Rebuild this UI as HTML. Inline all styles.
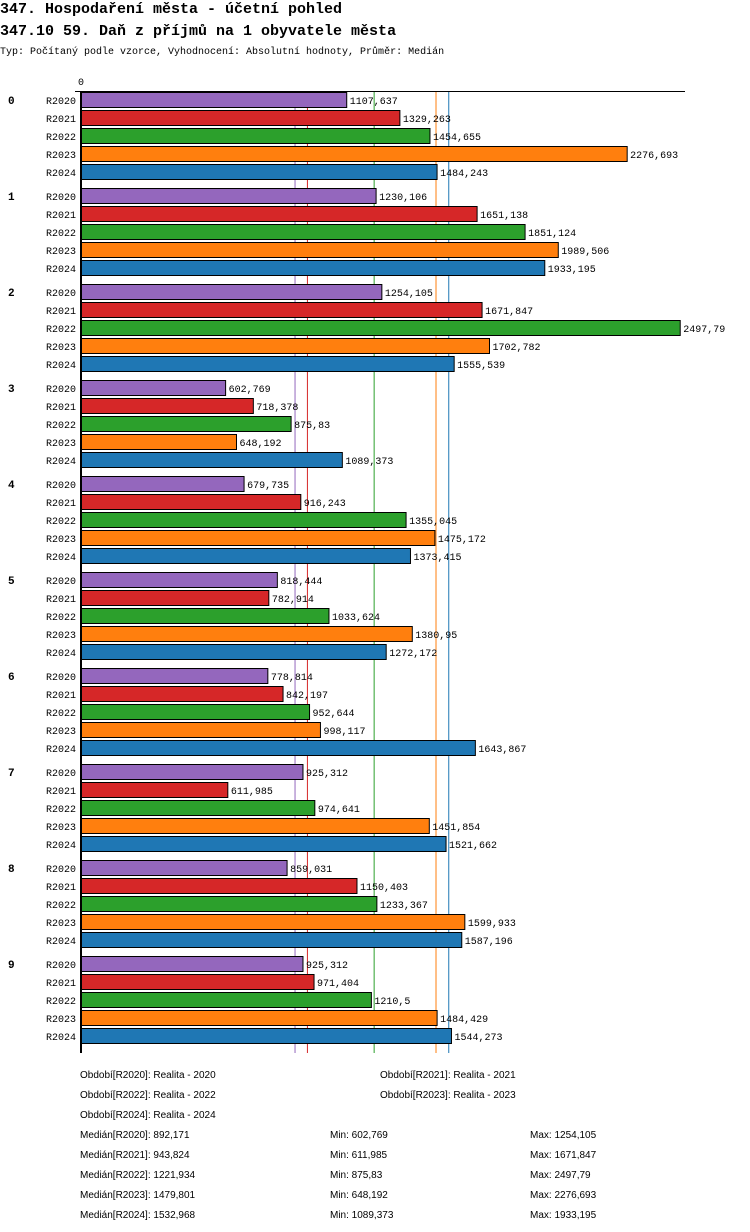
<!DOCTYPE html>
<html><head><meta charset="utf-8"><style>
body{margin:0;background:#fff;}
svg{display:block;}
.t{font-family:"Liberation Mono",monospace;}
.f{font-family:"Liberation Sans",sans-serif;font-size:10px;}
</style></head><body>
<svg id="c" width="750" height="1232">
<text class="t" x="0" y="13" font-size="15" font-weight="bold">347. Hospodaření města - účetní pohled</text>
<text class="t" x="0" y="35" font-size="15" font-weight="bold">347.10 59. Daň z příjmů na 1 obyvatele města</text>
<text class="t" x="0" y="54" font-size="10">Typ: Počítaný podle vzorce, Vyhodnocení: Absolutní hodnoty, Průměr: Medián</text>
<text class="t" x="78" y="85" font-size="10">0</text>
<g id="lines"></g>
<g id="bars"></g>
<line x1="75" y1="91.5" x2="685" y2="91.5" stroke="#000"/>
<line x1="81" y1="91" x2="81" y2="1053" stroke="#000" stroke-width="2"/>
<g class="f">
<text x="80" y="1078">Období[R2020]: Realita - 2020</text>
<text x="380" y="1078">Období[R2021]: Realita - 2021</text>
<text x="80" y="1098">Období[R2022]: Realita - 2022</text>
<text x="380" y="1098">Období[R2023]: Realita - 2023</text>
<text x="80" y="1118">Období[R2024]: Realita - 2024</text>
<text x="80" y="1138">Medián[R2020]: 892,171</text><text x="330" y="1138">Min: 602,769</text><text x="530" y="1138">Max: 1254,105</text>
<text x="80" y="1158">Medián[R2021]: 943,824</text><text x="330" y="1158">Min: 611,985</text><text x="530" y="1158">Max: 1671,847</text>
<text x="80" y="1178">Medián[R2022]: 1221,934</text><text x="330" y="1178">Min: 875,83</text><text x="530" y="1178">Max: 2497,79</text>
<text x="80" y="1198">Medián[R2023]: 1479,801</text><text x="330" y="1198">Min: 648,192</text><text x="530" y="1198">Max: 2276,693</text>
<text x="80" y="1218">Medián[R2024]: 1532,968</text><text x="330" y="1218">Min: 1089,373</text><text x="530" y="1218">Max: 1933,195</text>
</g>
</svg>
<script>
const categories=["0","1","2","3","4","5","6","7","8","9"];
const series=["R2020","R2021","R2022","R2023","R2024"];
const colors=["#9467bd","#d62728","#2ca02c","#ff7f0e","#1f77b4"];
const r2020=[1107.637,1230.106,1254.105,602.769,679.735,818.444,778.814,925.312,859.031,925.312];
const r2021=[1329.263,1651.138,1671.847,718.378,916.243,782.914,842.197,611.985,1150.403,971.404];
const r2022=[1454.655,1851.124,2497.79,875.83,1355.045,1033.624,952.644,974.641,1233.367,1210.5];
const r2023=[2276.693,1989.506,1702.782,648.192,1475.172,1380.95,998.117,1451.854,1599.933,1484.429];
const r2024=[1484.243,1933.195,1555.539,1089.373,1373.415,1272.172,1643.867,1521.662,1587.196,1544.273];
const medians=[892.171,943.824,1221.934,1479.801,1532.968];
const vals=[r2020,r2021,r2022,r2023,r2024];
const NS="http://www.w3.org/2000/svg";
const x=v=>81+v*0.2399;
const y=(g,s)=>92+g*96+s*18;
function mk(t,a,p){const e=document.createElementNS(NS,t);for(const k in a)e.setAttribute(k,a[k]);p.appendChild(e);return e;}
const bars=document.getElementById('bars'),lines=document.getElementById('lines');
categories.forEach((c,g)=>{
 const gl=mk('text',{x:8,y:y(g,0)+12,'font-size':11,'font-weight':'bold',class:'t'},bars);
 
 
 gl.textContent=c;
 series.forEach((s,i)=>{
  const v=vals[i][g];
  const sl=mk('text',{x:76,y:y(g,i)+12,'font-size':10,'text-anchor':'end',class:'t'},bars);
  
  
  sl.textContent=s;
  const r=mk('rect',{x:81,y:y(g,i)+0.5,width:x(v)-81,height:15,fill:colors[i],stroke:'#000','stroke-width':1},bars);
  
  
  const vl=mk('text',{x:x(v)+3,y:y(g,i)+12,'font-size':10,class:'t'},bars);
  
  
  vl.textContent=String(v).replace('.',',');
 });
});
medians.forEach((m,i)=>{
 const l=mk('line',{x1:x(m),x2:x(m),y1:91,y2:1053,stroke:colors[i],'stroke-width':1},lines);
 
 
});
</script>
</body></html>
